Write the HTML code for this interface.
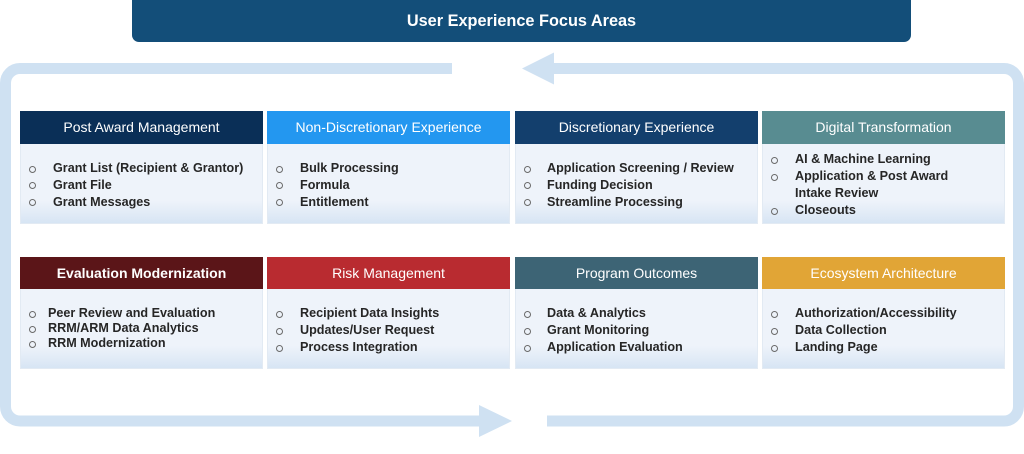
<!DOCTYPE html>
<html>
<head>
<meta charset="utf-8">
<style>
  html,body{margin:0;padding:0;background:#fff;}
  body{width:1024px;height:454px;position:relative;overflow:hidden;font-family:"Liberation Sans",sans-serif;}
  .title{position:absolute;left:132px;top:0;width:779px;height:42px;background:#134e79;border-radius:0 0 7px 7px;color:#fff;font-weight:bold;font-size:16.3px;line-height:42px;text-align:center;}
  .card{position:absolute;width:243px;}
  .hd{position:absolute;left:0;top:0;width:243px;color:#fff;font-size:14px;text-align:center;}
  .bd{position:absolute;left:0;width:241px;border:1px solid #e2eaf3;border-top:none;background:linear-gradient(to bottom,#eef3fa 0%,#eef3fa 72%,#d7e5f4 100%);}
  .ln{position:absolute;height:16px;line-height:16px;font-size:12.6px;font-weight:bold;color:#262626;white-space:nowrap;}
  .b{position:absolute;width:5px;height:5px;border:1px solid #6a6a6a;border-radius:50%;}
</style>
</head>
<body>
<svg width="1024" height="454" style="position:absolute;left:0;top:0">
  <g fill="none" stroke="#cfe1f2" stroke-width="11" stroke-linecap="butt">
    <path d="M452 68.5 H20 A14.5 14.5 0 0 0 5.5 83 V406.5 A14.5 14.5 0 0 0 20 421 H480"/>
    <path d="M547 421 H1004 A14.5 14.5 0 0 0 1018.5 406.5 V83 A14.5 14.5 0 0 0 1004 68.5 H553"/>
  </g>
  <polygon points="479,405 512,421 479,437" fill="#cfe1f2"/>
  <polygon points="554,52.5 522,68.5 554,84.5" fill="#cfe1f2"/>
</svg>

<div class="title">User Experience Focus Areas</div>

<!-- Row 1 -->
<div class="card" style="left:20px;top:111px;">
  <div class="hd" style="height:33px;line-height:33px;background:#0a2f57;">Post Award Management</div>
  <div class="bd" style="top:33px;height:79px;"></div>
</div>
<div class="card" style="left:267px;top:111px;">
  <div class="hd" style="height:33px;line-height:33px;background:#2397f0;">Non-Discretionary Experience</div>
  <div class="bd" style="top:33px;height:79px;"></div>
</div>
<div class="card" style="left:515px;top:111px;">
  <div class="hd" style="height:33px;line-height:33px;background:#133f6d;">Discretionary Experience</div>
  <div class="bd" style="top:33px;height:79px;"></div>
</div>
<div class="card" style="left:762px;top:111px;">
  <div class="hd" style="height:33px;line-height:33px;background:#588c91;">Digital Transformation</div>
  <div class="bd" style="top:33px;height:79px;"></div>
</div>

<!-- Row 2 -->
<div class="card" style="left:20px;top:257px;">
  <div class="hd" style="height:32px;line-height:32px;background:#5b1518;font-weight:bold;">Evaluation Modernization</div>
  <div class="bd" style="top:32px;height:79px;"></div>
</div>
<div class="card" style="left:267px;top:257px;">
  <div class="hd" style="height:32px;line-height:32px;background:#b92b30;">Risk Management</div>
  <div class="bd" style="top:32px;height:79px;"></div>
</div>
<div class="card" style="left:515px;top:257px;">
  <div class="hd" style="height:32px;line-height:32px;background:#3d6475;">Program Outcomes</div>
  <div class="bd" style="top:32px;height:79px;"></div>
</div>
<div class="card" style="left:762px;top:257px;">
  <div class="hd" style="height:32px;line-height:32px;background:#e1a536;">Ecosystem Architecture</div>
  <div class="bd" style="top:32px;height:79px;"></div>
</div>

<!-- Card 1 items -->
<div class="b" style="left:29px;top:166px;"></div><div class="ln" style="left:53px;top:160px;">Grant List (Recipient &amp; Grantor)</div>
<div class="b" style="left:29px;top:182px;"></div><div class="ln" style="left:53px;top:177px;">Grant File</div>
<div class="b" style="left:29px;top:199px;"></div><div class="ln" style="left:53px;top:194px;">Grant Messages</div>

<!-- Card 2 items -->
<div class="b" style="left:276px;top:166px;"></div><div class="ln" style="left:300px;top:160px;">Bulk Processing</div>
<div class="b" style="left:276px;top:182px;"></div><div class="ln" style="left:300px;top:177px;">Formula</div>
<div class="b" style="left:276px;top:199px;"></div><div class="ln" style="left:300px;top:194px;">Entitlement</div>

<!-- Card 3 items -->
<div class="b" style="left:524px;top:166px;"></div><div class="ln" style="left:547px;top:160px;">Application Screening / Review</div>
<div class="b" style="left:524px;top:182px;"></div><div class="ln" style="left:547px;top:177px;">Funding Decision</div>
<div class="b" style="left:524px;top:199px;"></div><div class="ln" style="left:547px;top:194px;">Streamline Processing</div>

<!-- Card 4 items -->
<div class="b" style="left:771px;top:157px;"></div><div class="ln" style="left:795px;top:151px;">AI &amp; Machine Learning</div>
<div class="b" style="left:771px;top:174px;"></div><div class="ln" style="left:795px;top:168px;">Application &amp; Post Award</div>
<div class="ln" style="left:795px;top:185px;">Intake Review</div>
<div class="b" style="left:771px;top:208px;"></div><div class="ln" style="left:795px;top:202px;">Closeouts</div>

<!-- Card 5 items -->
<div class="b" style="left:29px;top:311px;"></div><div class="ln" style="left:48px;top:305px;">Peer Review and Evaluation</div>
<div class="b" style="left:29px;top:326px;"></div><div class="ln" style="left:48px;top:320px;">RRM/ARM Data Analytics</div>
<div class="b" style="left:29px;top:341px;"></div><div class="ln" style="left:48px;top:335px;">RRM Modernization</div>

<!-- Card 6 items -->
<div class="b" style="left:276px;top:311px;"></div><div class="ln" style="left:300px;top:305px;">Recipient Data Insights</div>
<div class="b" style="left:276px;top:328px;"></div><div class="ln" style="left:300px;top:322px;">Updates/User Request</div>
<div class="b" style="left:276px;top:345px;"></div><div class="ln" style="left:300px;top:339px;">Process Integration</div>

<!-- Card 7 items -->
<div class="b" style="left:524px;top:311px;"></div><div class="ln" style="left:547px;top:305px;">Data &amp; Analytics</div>
<div class="b" style="left:524px;top:328px;"></div><div class="ln" style="left:547px;top:322px;">Grant Monitoring</div>
<div class="b" style="left:524px;top:345px;"></div><div class="ln" style="left:547px;top:339px;">Application Evaluation</div>

<!-- Card 8 items -->
<div class="b" style="left:771px;top:311px;"></div><div class="ln" style="left:795px;top:305px;">Authorization/Accessibility</div>
<div class="b" style="left:771px;top:328px;"></div><div class="ln" style="left:795px;top:322px;">Data Collection</div>
<div class="b" style="left:771px;top:345px;"></div><div class="ln" style="left:795px;top:339px;">Landing Page</div>

</body>
</html>
